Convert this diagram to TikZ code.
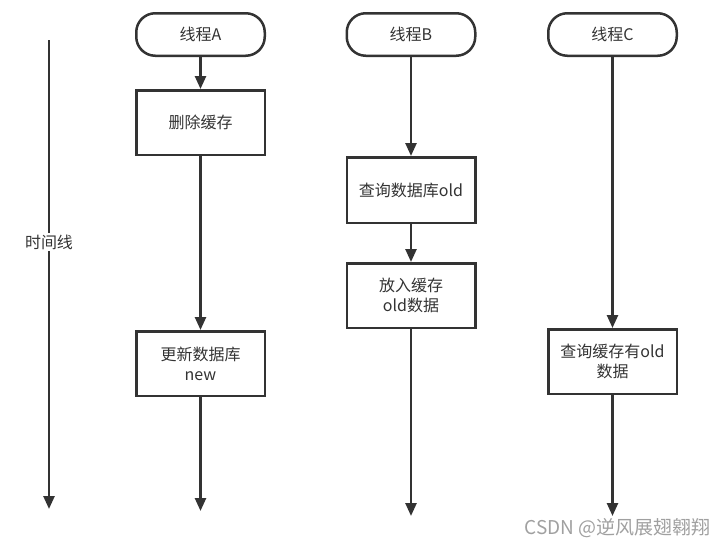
\documentclass[tikz,border=0pt]{standalone}
\usepackage{fontspec}
\setmainfont{Noto Sans CJK SC}
\usetikzlibrary{positioning,arrows.meta}

\begin{document}
\begin{tikzpicture}[x=1pt, y=-1pt]
       \definecolor{ink}{HTML}{333333}
       \definecolor{mark}{HTML}{A0A0A0}
       \newcommand{\startsep}[0]{32pt}
       \newcommand{\textsize}[0]{\fontsize{16}{20}\selectfont}
       \tikzstyle{thread}    = [rectangle, rounded corners=19pt, draw = ink, line width=2.5pt, minimum width=128.5pt, minimum height=42.5pt, inner sep=0pt, font=\textsize, text=ink]
       \tikzstyle{block}     = [rectangle, draw = ink, line width=2.5pt, minimum width=128.5pt, minimum height=64.5pt, inner sep=0pt, align=center, font=\textsize, text=ink]
       \tikzstyle{connector} = [line width=2.5pt, draw = ink, -{Triangle[length=13pt, width=11pt]}]

       \useasboundingbox (0,0) rectangle (724,549);

       % time line
       \coordinate (timestart) at (49,40);
       \coordinate (timeend)   at (49,509);
       \draw [connector] (timestart) -- (timeend);
       \node [fill = white, inner sep=2pt, font=\textsize, text=ink] (timelabel) at (49,242) {时间线};

       % thread A
       \node [thread] (threada) at (200.5,34.5) {线程A};
       \node [block, below = \startsep of threada] (deletea) {删除缓存};
       \node [block, below = 174pt of deletea] (updatea) {更新数据库\\new};
       \coordinate (enda) at (200.5,511);

       % thread B
       \node [thread] (threadb) at (411,34.5) {线程B};
       \node [block, below = 99pt of threadb, minimum height=65.5pt] (queryb) {查询数据库old};
       \node [block, below = 38pt of queryb] (putb) {放入缓存\\old数据};
       \coordinate (endb) at (411,516);

       % thread C
       \node [thread] (threadc) at (612.5,34.5) {线程C};
       \node [block, below = 271pt of threadc] (queryc) {查询缓存有old\\数据};
       \coordinate (endc) at (612.5,516);

       \draw [connector] (threada) -- (deletea);
       \draw [connector] (deletea) -- (updatea);
       \draw [connector] (updatea) -- (enda);
       \draw [connector] (threadb) -- (queryb);
       \draw [connector] (queryb)  -- (putb);
       \draw [connector] (putb)    -- (endb);
       \draw [connector] (threadc) -- (queryc);
       \draw [connector] (queryc)  -- (endc);

       \node [anchor = east, text = mark, font=\fontsize{19}{23}\selectfont, inner sep=0pt] (watermark) at (711,528) {CSDN @逆风展翅翱翔};
\end{tikzpicture}
\end{document}
